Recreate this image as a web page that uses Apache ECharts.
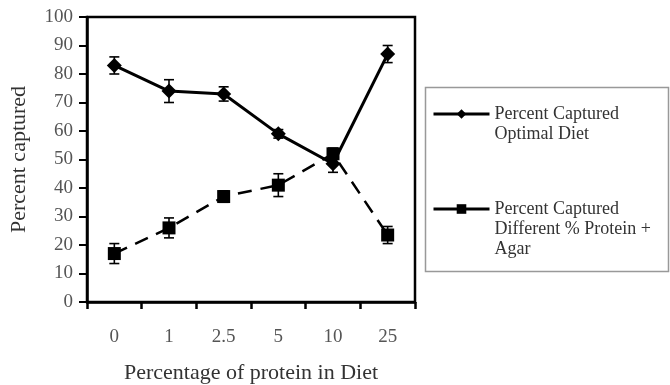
<!DOCTYPE html>
<html>
<head>
<meta charset="utf-8">
<script src="https://cdn.jsdelivr.net/npm/echarts@6/dist/echarts.min.js"></script>
<style>html,body{margin:0;padding:0;background:#fff;}#c{width:670px;height:385px;}</style>
</head>
<body>
<div id="c"></div>
<script>
const categories = ['0', '1', '2.5', '5', '10', '25'];
const optimalValues = [83, 74, 73, 59, 48.5, 87];
const optimalErr = [3, 4, 2.5, 1.5, 3, 3];
const agarValues = [17, 26, 37, 41, 52, 23.5];
const agarErr = [3.5, 3.5, 2, 4, 2, 3];
const yTicks = { min: 0, max: 100, interval: 10 };
const seriesNames = ['Percent Captured\nOptimal Diet', 'Percent Captured\nDifferent % Protein +\nAgar'];

const FONT = 'Liberation Serif';

function errorSeries(values, errs) {
  return {
    type: 'custom',
    silent: true,
    z: 3,
    data: values.map((v, i) => [i, v - errs[i], v + errs[i]]),
    renderItem: function (params, api) {
      const x = api.value(0);
      const lo = api.coord([x, api.value(1)]);
      const hi = api.coord([x, api.value(2)]);
      const hw = 5;
      const st = { stroke: '#000', lineWidth: 1.6 };
      return {
        type: 'group',
        children: [
          { type: 'line', shape: { x1: lo[0], y1: lo[1], x2: hi[0], y2: hi[1] }, style: st },
          { type: 'line', shape: { x1: lo[0] - hw, y1: lo[1], x2: lo[0] + hw, y2: lo[1] }, style: st },
          { type: 'line', shape: { x1: hi[0] - hw, y1: hi[1], x2: hi[0] + hw, y2: hi[1] }, style: st }
        ]
      };
    }
  };
}

// pad legend text with leading blank lines so the icon aligns with the first line
function legendLabel(name) {
  const n = name.split('\n').length;
  return '\n'.repeat(n - 1) + name;
}

const chart = echarts.init(document.getElementById('c'), null, { renderer: 'canvas' });
chart.setOption({
  animation: false,
  backgroundColor: '#fff',
  textStyle: { fontFamily: FONT },
  grid: {
    left: 87, top: 17, right: 255, bottom: 83,
    containLabel: false, outerBoundsMode: 'none',
    show: true, borderColor: '#000', borderWidth: 2.5, backgroundColor: 'transparent'
  },
  graphic: [{
    type: 'rect', left: 423, top: 85, shape: { width: 243, height: 184 },
    style: { fill: 'none', stroke: '#999', lineWidth: 1.5 }, z: 0
  }],
  legend: {
    orient: 'vertical',
    left: 432,
    top: 84,
    padding: 0,
    itemWidth: 56,
    itemHeight: 12,
    itemGap: 15,
    lineStyle: { width: 3, type: 'solid' },
    data: [
      { name: seriesNames[0] },
      { name: seriesNames[1] }
    ],
    textStyle: { fontFamily: FONT, fontSize: 18, color: '#333', lineHeight: 20 },
    formatter: legendLabel
  },
  xAxis: {
    type: 'category',
    data: categories,
    boundaryGap: true,
    name: 'Percentage of protein in Diet',
    nameLocation: 'middle',
    nameGap: 60,
    nameTextStyle: { fontFamily: FONT, fontSize: 22, color: '#333' },
    axisLine: { lineStyle: { color: '#000', width: 2.5 } },
    axisTick: { show: true, length: 7, alignWithLabel: false, lineStyle: { color: '#000', width: 2.5 } },
    axisLabel: { margin: 26, fontFamily: FONT, fontSize: 19, color: '#555' },
    splitLine: { show: false }
  },
  yAxis: {
    type: 'value',
    min: yTicks.min,
    max: yTicks.max,
    interval: yTicks.interval,
    name: 'Percent captured',
    nameLocation: 'middle',
    nameGap: 57,
    nameTextStyle: { fontFamily: FONT, fontSize: 22, color: '#333' },
    axisLine: { show: true, lineStyle: { color: '#000', width: 2.5 } },
    axisTick: { show: true, length: 8, lineStyle: { color: '#000', width: 2 } },
    axisLabel: { margin: 14, fontFamily: FONT, fontSize: 19, color: '#555' },
    splitLine: { show: false }
  },
  series: [
    {
      name: seriesNames[0],
      type: 'line',
      data: optimalValues,
      symbol: 'diamond',
      symbolSize: 15,
      z: 4,
      itemStyle: { color: '#000' },
      lineStyle: { color: '#000', width: 3 }
    },
    {
      name: seriesNames[1],
      type: 'line',
      data: agarValues,
      symbol: 'rect',
      symbolSize: 13,
      z: 4,
      itemStyle: { color: '#000' },
      lineStyle: { color: '#000', width: 2.5, type: [14, 9] }
    },
    errorSeries(optimalValues, optimalErr),
    errorSeries(agarValues, agarErr)
  ]
});
</script>
</body>
</html>
